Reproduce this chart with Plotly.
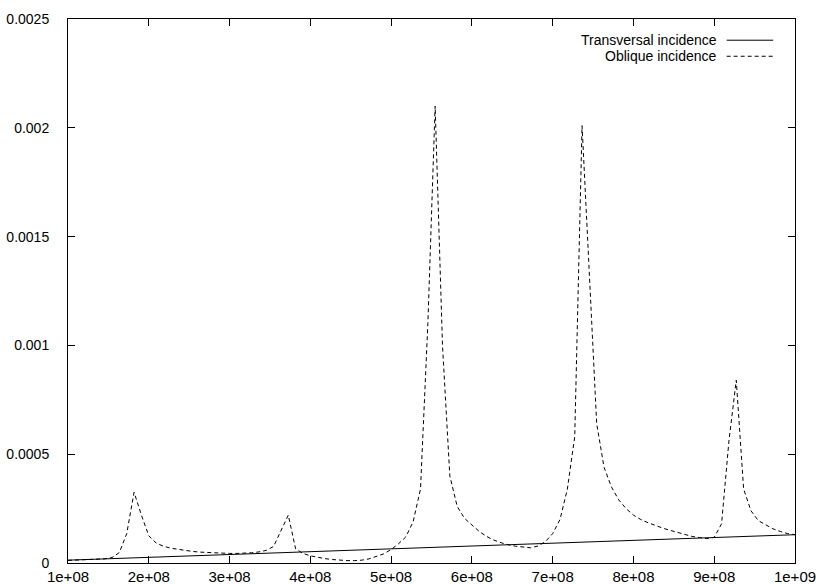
import plotly.graph_objects as go

# Frequency sampling grid of the oblique series (MHz)
freq_mhz = [
    100.0, 109.1, 118.2, 127.3, 136.4, 145.5, 154.5, 163.6, 172.7, 181.8, 190.9,
    200.0, 209.1, 218.2, 227.3, 236.4, 245.5, 254.5, 263.6, 272.7, 281.8, 290.9,
    300.0, 309.1, 318.2, 327.3, 336.4, 345.5, 354.5, 363.6, 372.7, 381.8, 390.9,
    400.0, 409.1, 418.2, 427.3, 436.4, 445.5, 454.5, 463.6, 472.7, 481.8, 490.9,
    500.0, 509.1, 518.2, 527.3, 536.4, 545.5, 554.5, 563.6, 572.7, 581.8, 590.9,
    600.0, 609.1, 618.2, 627.3, 636.4, 645.5, 654.5, 663.6, 672.7, 681.8, 690.9,
    700.0, 709.1, 718.2, 727.3, 736.4, 745.5, 754.5, 763.6, 772.7, 781.8, 790.9,
    800.0, 809.1, 818.2, 827.3, 836.4, 845.5, 854.5, 863.6, 872.7, 881.8, 890.9,
    900.0, 909.1, 918.2, 927.3, 936.4, 945.5, 954.5, 963.6, 972.7, 981.8, 990.9,
    1000.0,
]

oblique = [
    1.2e-5, 1.3e-5, 1.4e-5, 1.5e-5, 1.7e-5, 1.9e-5, 2.5e-5, 4.8e-5, 1.35e-4, 3.25e-4, 2.2e-4,
    1.25e-4, 9.2e-5, 7.7e-5, 6.8e-5, 6.2e-5, 5.7e-5, 5.3e-5, 5.0e-5, 4.8e-5, 4.6e-5, 4.5e-5,
    4.4e-5, 4.4e-5, 4.5e-5, 4.7e-5, 5.1e-5, 5.8e-5, 7.6e-5, 1.45e-4, 2.2e-4, 6.5e-5, 4.4e-5,
    3.3e-5, 2.6e-5, 2.0e-5, 1.6e-5, 1.3e-5, 1.1e-5, 1.1e-5, 1.3e-5, 1.9e-5, 2.9e-5, 4.2e-5,
    6.2e-5, 8.8e-5, 1.2e-4, 1.9e-4, 3.4e-4, 1.1e-3, 2.1e-3, 1.0e-3, 4.0e-4, 2.6e-4, 2.05e-4,
    1.75e-4, 1.45e-4, 1.22e-4, 1.05e-4, 9.3e-5, 8.3e-5, 7.7e-5, 7.2e-5, 7.0e-5, 7.8e-5, 9.8e-5,
    1.35e-4, 2.0e-4, 3.4e-4, 5.8e-4, 2.01e-3, 1.33e-3, 6.4e-4, 4.4e-4, 3.5e-4, 2.9e-4, 2.5e-4,
    2.2e-4, 2.0e-4, 1.85e-4, 1.72e-4, 1.6e-4, 1.5e-4, 1.4e-4, 1.3e-4, 1.22e-4, 1.17e-4, 1.12e-4,
    1.18e-4, 1.8e-4, 5.6e-4, 8.4e-4, 3.4e-4, 2.4e-4, 1.95e-4, 1.74e-4, 1.57e-4, 1.45e-4, 1.35e-4,
    1.3e-4,
]

trans_mhz = [100, 200, 300, 400, 500, 600, 700, 800, 900, 1000]
transversal = [1.3e-5, 2.6e-5, 3.8e-5, 5.0e-5, 6.3e-5, 7.6e-5, 8.9e-5, 1.02e-4, 1.17e-4, 1.3e-4]

x_tickvals = [1e8, 2e8, 3e8, 4e8, 5e8, 6e8, 7e8, 8e8, 9e8, 1e9]
x_ticktext = ["1e+08", "2e+08", "3e+08", "4e+08", "5e+08", "6e+08", "7e+08", "8e+08", "9e+08", "1e+09"]
y_tickvals = [0, 0.0005, 0.001, 0.0015, 0.002, 0.0025]
y_ticktext = ["0", "0.0005", "0.001", "0.0015", "0.002", "0.0025"]

series_names = ["Transversal incidence", "Oblique incidence"]

FONT = "Liberation Sans, Arial, Helvetica, sans-serif"

fig = go.Figure()
fig.add_trace(go.Scatter(
    x=[m * 1e6 for m in trans_mhz], y=transversal, mode="lines",
    name=series_names[0], line=dict(color="black", width=1), showlegend=False))
fig.add_trace(go.Scatter(
    x=[m * 1e6 for m in freq_mhz], y=oblique, mode="lines",
    name=series_names[1], line=dict(color="black", width=1, dash="4px,3px"), showlegend=False))

# gnuplot-style key: right-aligned text followed by line sample
key_rows = [(0.961, "solid"), (0.9315, "4px,3px")]
for (yy, dash), name in zip(key_rows, series_names):
    fig.add_annotation(xref="paper", yref="paper", x=0.8955, y=yy, text=name,
                       showarrow=False, xanchor="right", yanchor="middle",
                       font=dict(family=FONT, size=14, color="black"))
    fig.add_shape(type="line", xref="paper", yref="paper", x0=0.906, x1=0.970,
                  y0=yy, y1=yy, line=dict(color="black", width=1, dash=dash))

axis_common = dict(showline=True, mirror="ticks", linecolor="black", linewidth=1,
                   ticks="inside", ticklen=7, tickcolor="black", tickwidth=1,
                   showgrid=False, zeroline=False, automargin=False)

fig.update_xaxes(range=[1e8, 1e9], tickvals=x_tickvals, ticktext=x_ticktext,
                 ticklabelstandoff=0, tickfont=dict(family=FONT, size=15, color="black"),
                 **axis_common)
fig.update_yaxes(range=[0, 0.0025], tickvals=y_tickvals, ticktext=y_ticktext,
                 ticklabelstandoff=15, tickfont=dict(family=FONT, size=14, color="black"),
                 **axis_common)

fig.update_layout(width=820, height=584, paper_bgcolor="white", plot_bgcolor="white",
                  margin=dict(l=68, r=25, t=19, b=21, pad=0),
                  font=dict(family=FONT, size=15, color="black"))

fig.write_html("out.html", config={"displayModeBar": False},
               post_script="document.body.style.margin='0px';")
